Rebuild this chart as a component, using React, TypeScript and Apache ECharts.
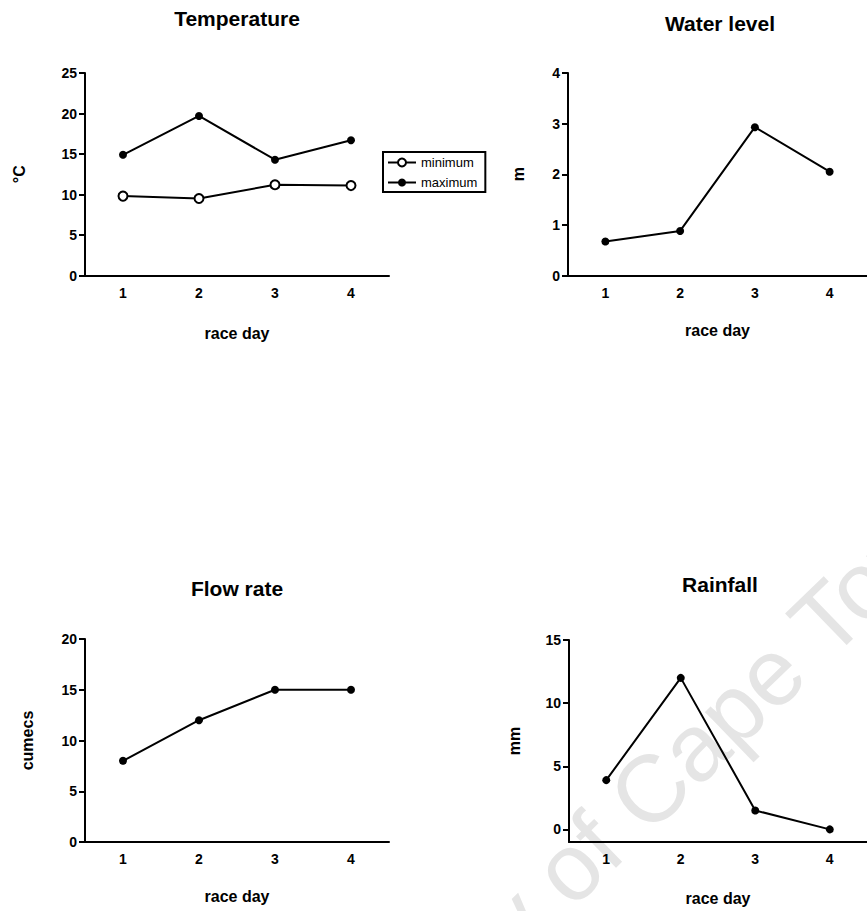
import React, { useEffect, useRef } from "react";
import * as echarts from "echarts";

const days = ["1", "2", "3", "4"];
const tempMin = [9.8, 9.5, 11.2, 11.1];
const tempMax = [14.9, 19.7, 14.3, 16.7];
const waterLevel = [0.67, 0.88, 2.93, 2.05];
const flowRate = [8, 12, 15, 15];
const rainfall = [3.9, 12, 1.5, 0];
const rainTicks = [0, 5, 10, 15];

const FONT = "'Liberation Sans', Arial, Helvetica, sans-serif";

function xAxisFor(gridIndex: number, nameGap: number) {
  return {
    type: "category",
    gridIndex,
    data: days,
    boundaryGap: true,
    name: "race day",
    nameLocation: "middle",
    nameGap,
    nameTextStyle: { fontFamily: FONT, fontSize: 16, fontWeight: "bold", color: "#000" },
    axisLine: { onZero: false, lineStyle: { color: "#000", width: 2 } },
    axisTick: { alignWithLabel: true, length: 6, lineStyle: { color: "#000", width: 2 } },
    axisLabel: { fontFamily: FONT, fontSize: 14, fontWeight: "bold", color: "#000", margin: 10 },
    splitLine: { show: false },
  };
}

function yAxisFor(gridIndex: number, name: string, nameGap: number, min: number, max: number, interval?: number, custom?: number[]) {
  const ax: any = {
    type: "value",
    gridIndex,
    min,
    max,
    name,
    nameLocation: "middle",
    nameRotate: 90,
    nameGap,
    nameTextStyle: { fontFamily: FONT, fontSize: 16, fontWeight: "bold", color: "#000" },
    axisLine: { show: true, onZero: false, lineStyle: { color: "#000", width: 2 } },
    axisTick: { show: true, length: 6, lineStyle: { color: "#000", width: 2 } },
    axisLabel: { fontFamily: FONT, fontSize: 14, fontWeight: "bold", color: "#000", margin: 8 },
    splitLine: { show: false },
  };
  if (interval !== undefined) ax.interval = interval;
  if (custom) {
    ax.axisTick.customValues = custom;
    ax.axisLabel.customValues = custom;
  }
  return ax;
}

const filledLine = (name: string, data: number[], idx: number) => ({
  type: "line",
  name,
  xAxisIndex: idx,
  yAxisIndex: idx,
  data,
  symbol: "circle",
  symbolSize: 8,
  lineStyle: { color: "#000", width: 2 },
  itemStyle: { color: "#000" },
  z: 3,
});

export default function App() {
  const ref = useRef<HTMLDivElement>(null);
  useEffect(() => {
    if (!ref.current) return;
    const chart = echarts.init(ref.current, null, { renderer: "svg" });
    const rot = (44 * Math.PI) / 180;
    const titleStyle = (text: string) => ({
      text,
      fontFamily: FONT,
      fontSize: 21,
      fontWeight: "bold",
      fill: "#000",
      align: "center",
      verticalAlign: "middle",
      textAlign: "center",
      textVerticalAlign: "middle",
    });
    const wmStyle = (text: string, align: string) => ({
      text,
      fontFamily: FONT,
      fontSize: 95,
      fill: "#e5e5e5",
      align,
      textAlign: align,
      verticalAlign: "top",
      textVerticalAlign: "top",
    });
    chart.setOption({
      animation: false,
      backgroundColor: "#fff",
      grid: [
        { left: 85, top: 73, width: 304, height: 202.5 },
        { left: 568, top: 73, width: 304, height: 202.5 },
        { left: 85, top: 639, width: 304, height: 203 },
        { left: 569, top: 640, width: 304, height: 202 },
      ],
      xAxis: [xAxisFor(0, 50), xAxisFor(1, 47), xAxisFor(2, 46), xAxisFor(3, 48)],
      yAxis: [
        yAxisFor(0, "°C", 58, 0, 25, 5),
        yAxisFor(1, "m", 42, 0, 4, 1),
        yAxisFor(2, "cumecs", 50, 0, 20, 5),
        yAxisFor(3, "mm", 47, -1, 15, undefined, rainTicks),
      ],
      legend: {
        data: ["minimum", "maximum"],
        orient: "vertical",
        left: 383,
        top: 152,
        borderColor: "#000",
        borderWidth: 2,
        borderRadius: 0,
        padding: [3, 8, 2, 4],
        itemGap: 5,
        itemWidth: 28,
        itemHeight: 10,
        textStyle: { fontFamily: FONT, fontSize: 13, color: "#000", lineHeight: 15 },
      },
      series: [
        {
          type: "line",
          name: "minimum",
          xAxisIndex: 0,
          yAxisIndex: 0,
          data: tempMin,
          symbol: "circle",
          symbolSize: 9,
          lineStyle: { color: "#000", width: 2 },
          itemStyle: { color: "#fff", borderColor: "#000", borderWidth: 2 },
          z: 3,
        },
        filledLine("maximum", tempMax, 0),
        filledLine("Water level", waterLevel, 1),
        filledLine("Flow rate", flowRate, 2),
        filledLine("Rainfall", rainfall, 3),
      ],
      graphic: [
        { type: "text", x: 592, y: 779, rotation: rot, z: -10, silent: true, style: wmStyle("Cape Town", "left") },
        { type: "text", x: 592, y: 779, rotation: rot, z: -10, silent: true, style: wmStyle("University of ", "right") },
        { type: "text", x: 237, y: 18, style: titleStyle("Temperature") },
        { type: "text", x: 720, y: 23.5, style: titleStyle("Water level") },
        { type: "text", x: 237, y: 588.5, style: titleStyle("Flow rate") },
        { type: "text", x: 720, y: 584.5, style: titleStyle("Rainfall") },
      ],
    });
    return () => chart.dispose();
  }, []);
  return <div ref={ref} style={{ position: "absolute", left: 0, top: 0, width: 867, height: 911 }} />;
}
